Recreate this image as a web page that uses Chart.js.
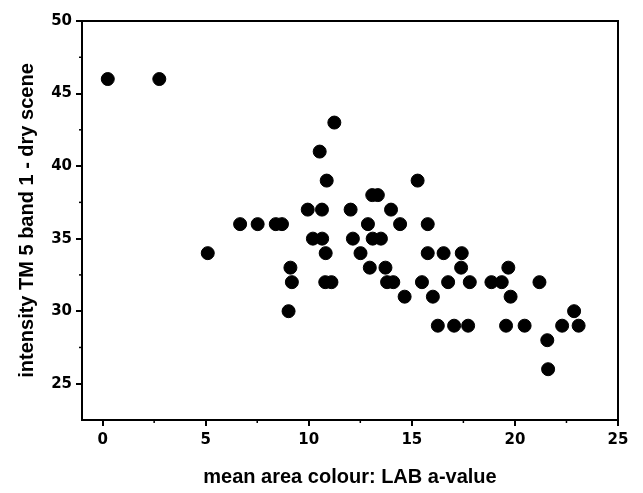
<!DOCTYPE html>
<html>
<head>
<meta charset="utf-8">
<script src="https://cdn.jsdelivr.net/npm/chart.js@4"></script>
<style>
  html, body { margin: 0; padding: 0; background: #fff; }
</style>
</head>
<body>
<canvas id="scatterChart" width="643" height="493"></canvas>
<script>
// a-value (x) and intensity (y)
const aValues = [
  0.25, 2.75,
  5.1,
  6.67, 7.52, 8.4, 8.7,
  9.02, 9.11, 9.18,
  9.95, 10.64, 12.03, 13.99,
  10.2, 10.65, 12.14, 13.1, 13.5,
  10.53, 10.87, 11.24,
  10.82, 10.8, 11.1,
  12.87, 14.43, 15.77,
  13.08, 13.35,
  15.28,
  12.51, 15.77, 16.54, 17.42,
  12.96, 13.72, 17.39, 19.68,
  13.8, 14.1, 15.49, 16.76, 17.81, 18.86, 19.36, 21.19,
  14.65, 16.02, 19.79,
  22.87,
  16.26, 17.05, 17.73, 19.57, 20.47, 22.29, 23.09,
  21.57, 21.61
];
const intensity = [
  46, 46,
  34,
  36, 36, 36, 36,
  30, 33, 32,
  37, 37, 37, 37,
  35, 35, 35, 35, 35,
  41, 39, 43,
  34, 32, 32,
  36, 36, 36,
  38, 38,
  39,
  34, 34, 34, 34,
  33, 33, 33, 33,
  32, 32, 32, 32, 32, 32, 32, 32,
  31, 31, 31,
  30,
  29, 29, 29, 29, 29, 29, 29,
  28, 26
];
const xTicks = [0, 5, 10, 15, 20, 25];
const xMinorTicks = [2.5, 7.5, 12.5, 17.5, 22.5];
const yTicks = [25, 30, 35, 40, 45, 50];
const yMinorTicks = [27.5, 32.5, 37.5, 42.5, 47.5];

const points = aValues.map((a, i) => ({ x: a, y: intensity[i] }));

// frame round the plot plus the small minor ticks on both axes
const framePlugin = {
  id: 'frame',
  afterDraw(chart) {
    const { ctx, chartArea: ca, scales } = chart;
    ctx.save();
    ctx.strokeStyle = '#000';
    ctx.lineWidth = 2;
    ctx.strokeRect(ca.left, ca.top, ca.right - ca.left, ca.bottom - ca.top);
    ctx.lineWidth = 1.5;
    xMinorTicks.forEach(v => {
      const px = scales.x.getPixelForValue(v);
      ctx.beginPath();
      ctx.moveTo(px, ca.bottom);
      ctx.lineTo(px, ca.bottom + 3);
      ctx.stroke();
    });
    yMinorTicks.forEach(v => {
      const py = scales.y.getPixelForValue(v);
      ctx.beginPath();
      ctx.moveTo(ca.left, py);
      ctx.lineTo(ca.left - 3, py);
      ctx.stroke();
    });
    ctx.restore();
  }
};

const tickFont = { family: 'DejaVu Sans', size: 15, weight: 'bold' };
const titleFont = { family: 'Liberation Sans', size: 20, weight: 'bold' };

new Chart(document.getElementById('scatterChart'), {
  type: 'scatter',
  data: {
    datasets: [{
      data: points,
      backgroundColor: '#000',
      borderColor: '#000',
      pointRadius: 6.5,
      pointHoverRadius: 6.5
    }]
  },
  options: {
    responsive: false,
    animation: false,
    layout: { padding: { top: 21, right: 25, left: 0, bottom: 0 } },
    plugins: { legend: { display: false }, tooltip: { enabled: false } },
    scales: {
      x: {
        type: 'linear',
        min: -1,
        max: 25,
        afterBuildTicks: s => { s.ticks = xTicks.map(v => ({ value: v })); },
        afterFit: s => { s.height = 73; },
        grid: { drawOnChartArea: false, drawTicks: true, tickLength: 6, color: '#000', lineWidth: 2 },
        border: { display: true, color: '#000', width: 2 },
        ticks: { color: '#000', font: tickFont, padding: 5, maxRotation: 0 },
        title: {
          display: true,
          text: 'mean area colour: LAB a-value',
          color: '#000',
          font: titleFont,
          padding: { top: 4, bottom: 4 }
        }
      },
      y: {
        type: 'linear',
        min: 22.5,
        max: 50,
        afterBuildTicks: s => { s.ticks = yTicks.map(v => ({ value: v })); },
        afterFit: s => { s.width = 82; },
        grid: { drawOnChartArea: false, drawTicks: true, tickLength: 6, color: '#000', lineWidth: 2 },
        border: { display: true, color: '#000', width: 2 },
        ticks: { color: '#000', font: tickFont, padding: 4 },
        title: {
          display: true,
          text: 'intensity TM 5 band 1 - dry scene',
          color: '#000',
          font: titleFont,
          padding: { top: 15, bottom: 15 }
        }
      }
    }
  },
  plugins: [framePlugin]
});
</script>
</body>
</html>
